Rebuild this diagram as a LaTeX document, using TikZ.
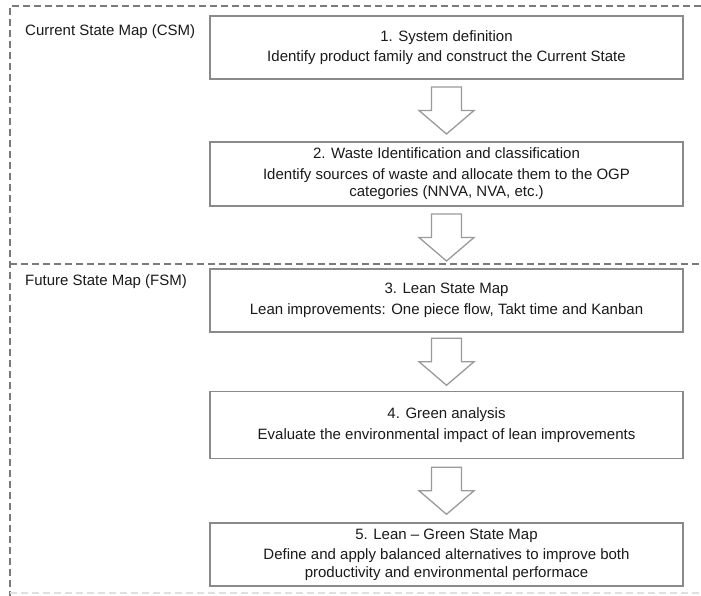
\documentclass[tikz,border=0pt]{standalone}
\usepackage{fontspec}
\setmainfont{Liberation Sans}
\definecolor{txt}{HTML}{1A1A1A}
\definecolor{boxline}{HTML}{8A8A8A}
\definecolor{dashline}{HTML}{7A7A7A}
\definecolor{arrline}{HTML}{9A9A9A}
\begin{document}
\begin{tikzpicture}[x=1pt,y=-1pt,
  stepbox/.style={draw=boxline,line width=1.4pt,fill=white,minimum width=473pt,
    align=center,inner sep=0pt,text=txt,font=\fontsize{15}{17.5}\selectfont},
  phase/.style={anchor=base west,text=txt,inner sep=0pt,font=\fontsize{15}{17.5}\selectfont},
  frame/.style={draw=dashline,line width=1.3pt,dash pattern=on 7pt off 4pt},
  bigarrow/.pic={\draw[arrline,line width=1.3pt,fill=white,line join=miter]
    (-15,-23.5) -- (15,-23.5) -- (15,0) -- (27.5,0) -- (0,23.5) -- (-27.5,0) -- (-15,0) -- cycle;}]
\useasboundingbox (0,0) rectangle (701,596);
\fill[white] (0,0) rectangle (701,596);

% frame of the two phases
\draw[frame] (701,6) -- (10,6) -- (10,596);
\draw[frame] (10,264) -- (701,264);
\draw[draw=black!12,line width=1.2pt,dash pattern=on 7pt off 4pt] (10,593) -- (701,593);

\node[phase] (csm) at (25,36) {Current State Map (CSM)};
\node[phase] (fsm) at (25,285) {Future State Map (FSM)};

% steps
\node[stepbox,minimum height=63pt] (s1) at (446.5,47.5)
  {1. System definition\\[3pt]Identify product family and construct the Current State};
\node[stepbox,minimum height=64pt] (s2) at (446.5,174)
  {2. Waste Identification and classification\\[3pt]Identify sources of waste and allocate them to the OGP\\categories (NNVA, NVA, etc.)};
\node[stepbox,minimum height=63pt] (s3) at (446.5,300.5)
  {3. Lean State Map\\[3pt]Lean improvements: One piece flow, Takt time and Kanban};
\node[stepbox,minimum height=67pt] (s4) at (446.5,425)
  {4. Green analysis\\[3pt]Evaluate the environmental impact of lean improvements};
\node[stepbox,minimum height=63pt] (s5) at (446.5,554.5)
  {5. Lean -- Green State Map\\[3pt]Define and apply balanced alternatives to improve both\\productivity and environmental performace};

% block arrows between consecutive steps
\foreach \a/\b in {s1/s2,s2/s3,s3/s4,s4/s5}{
  \path (\a.south) -- (\b.north) coordinate[midway] (m\a);
  \pic at (m\a) {bigarrow};
}
\end{tikzpicture}
\end{document}
